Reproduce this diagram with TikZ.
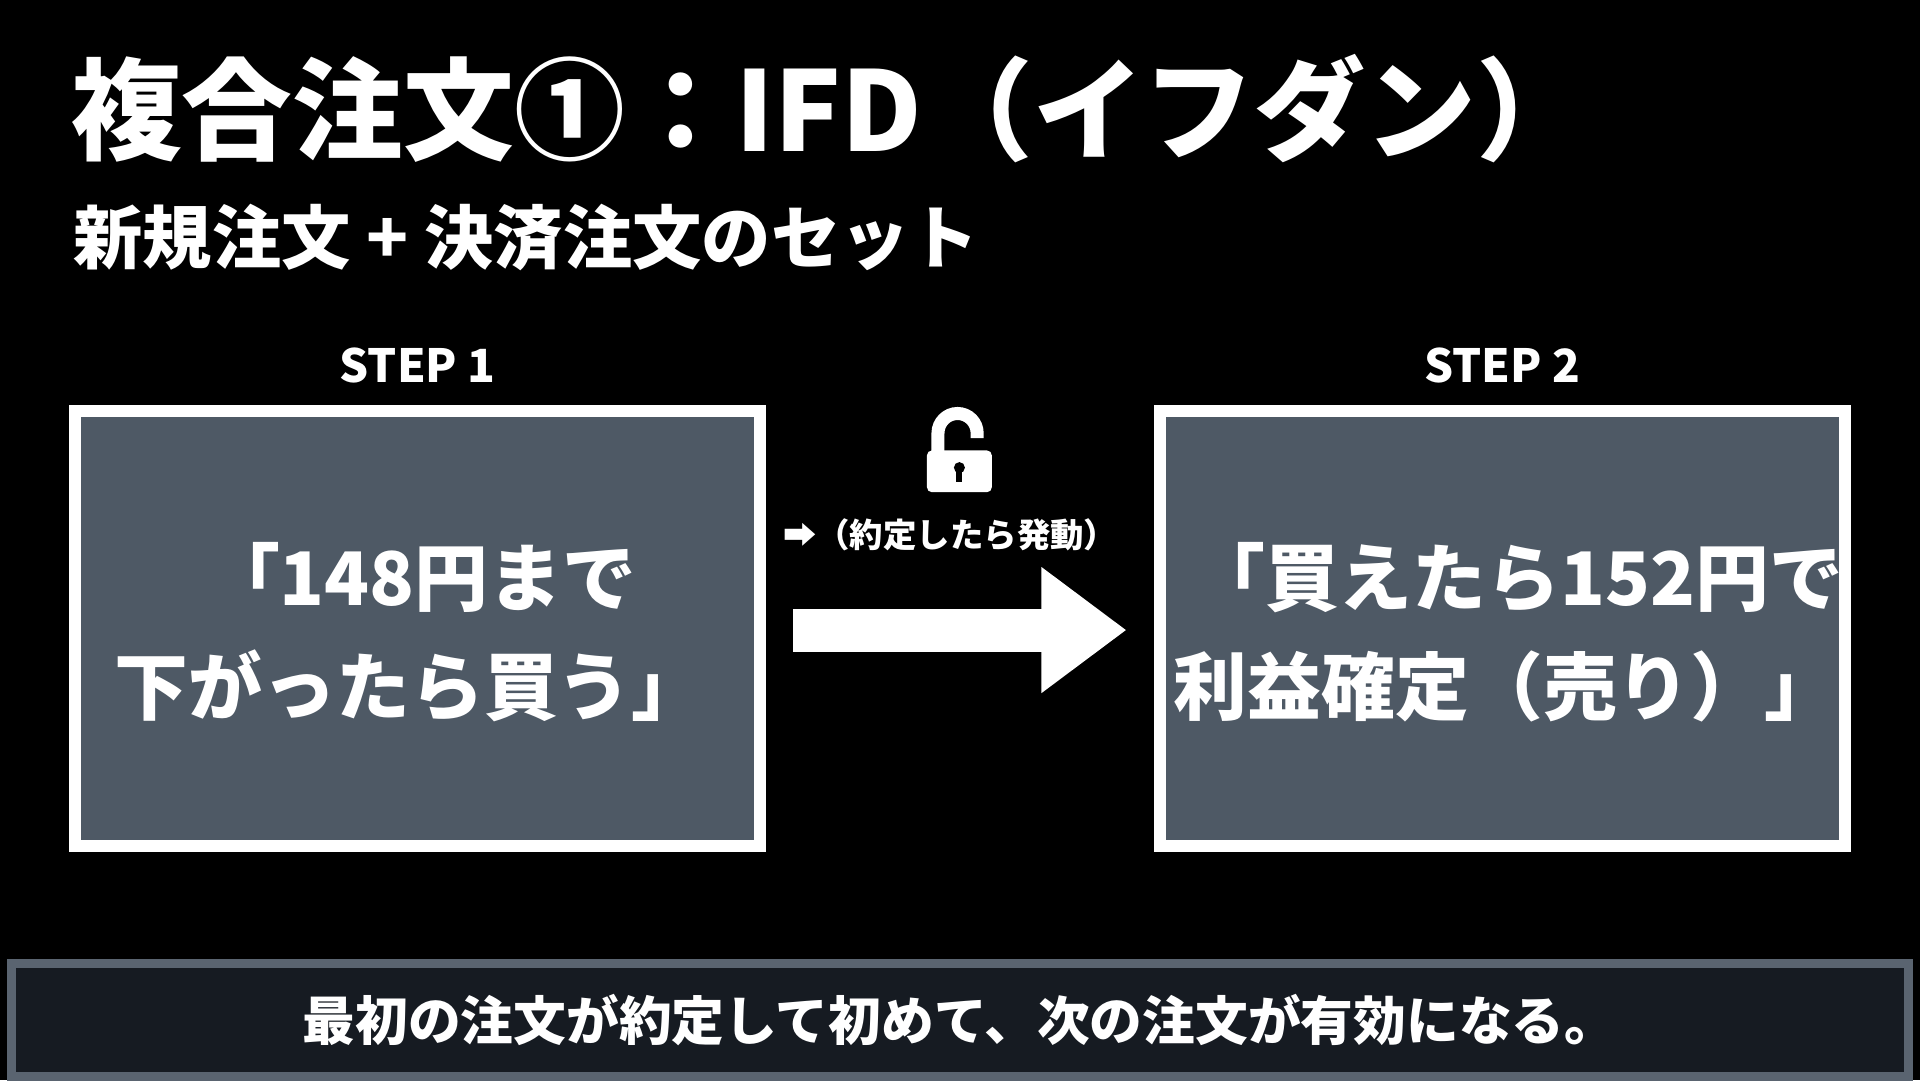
\documentclass[tikz,border=0pt]{standalone}
\usepackage{fontspec}
\setmainfont{Noto Sans CJK JP}
\usetikzlibrary{arrows.meta,positioning}

\definecolor{boxgray}{HTML}{4E5965}
\definecolor{barfill}{HTML}{161B22}
\definecolor{barline}{HTML}{5A6470}

\tikzset{
  stepbox/.style={draw=white,line width=1.2mm,fill=boxgray,
    minimum width=6.85cm,minimum height=4.35cm,inner sep=0pt},
  steplabel/.style={text=white,font=\bfseries\fontsize{13}{15}\selectfont},
  boxtext/.style={text=white,align=center,font=\bfseries\fontsize{21}{31}\selectfont},
}

\begin{document}
\begin{tikzpicture}[x=0.012245cm,y=-0.0123cm]
        \useasboundingbox[fill=black] (0,0) rectangle (1568,878);

        % title
        \node [anchor=west,text=white,font=\bfseries\fontsize{31.5}{36}\selectfont] (title) at (48,88) {複合注文①：IFD（イフダン）};
        \node [anchor=west,text=white,font=\bfseries\fontsize{19.7}{22}\selectfont] (subtitle) at (50,193) {新規注文 + 決済注文のセット};

        % the two steps
        \node [stepbox] (step1) at (341,511) {};
        \node [stepbox] (step2) at (1227,511) {};
        \node [steplabel,above=1mm of step1] (step1lbl) {STEP 1};
        \node [steplabel,above=1mm of step2] (step2lbl) {STEP 2};
        \node [boxtext] (step1txt) at (335,514) {\hspace*{0.3em}「148円まで\\下がったら買う」};
        \node [boxtext] (step2txt) at (1230,514) {\hspace*{0.3em}「買えたら152円で\\利益確定（売り）」};

        % arrow between them
        \coordinate (arrowS) at (648,512);
        \coordinate (arrowE) at (920,512);
        \draw [white,line width=0.43cm,-{Triangle[length=0.85cm,width=1.2cm]}] (arrowS) -- (arrowE);
        \node [text=white,font=\bfseries\fontsize{9.5}{11}\selectfont] (trigger) at (776,435) {➡（約定したら発動）};

        % open padlock
        \draw [white,line width=1.3mm] (766,368) -- (766,352) arc[start angle=180,end angle=360,x radius=16,y radius=16] -- (798,356);
        \fill [white,rounded corners=0.5mm] (757,366) rectangle (810,400);
        \fill [black] (783.5,380) circle[radius=4.5];
        \fill [black] (781,380) rectangle (786,392);

        % bottom bar
        \node [draw=barline,line width=0.9mm,fill=barfill,minimum width=18.95cm,minimum height=1.13cm,
            text=white,font=\bfseries\fontsize{15}{18}\selectfont] (bar) at (784,829) {最初の注文が約定して初めて、次の注文が有効になる。};
    \end{tikzpicture}
\end{document}
